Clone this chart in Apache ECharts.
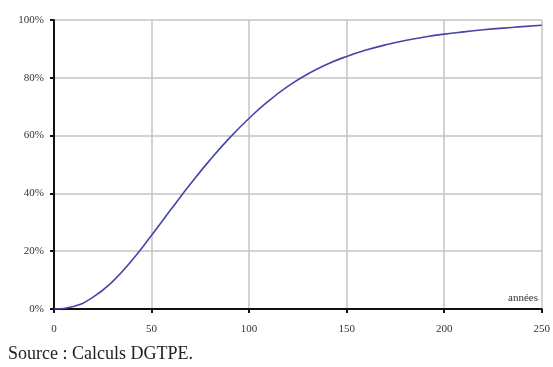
<!DOCTYPE html>
<html><head><meta charset="utf-8">
<script src="https://cdn.jsdelivr.net/npm/echarts@6/dist/echarts.min.js"></script>
<style>html,body{margin:0;padding:0;background:#fff}#c{width:553px;height:367px}</style>
</head><body><div id="c"></div>
<script>
const years = [0,10,20,30,40,50,60,70,80,90,100,110,120,130,140,150,160,170,180,190,200,210,220,230,240,250];
const share = [0,0.9,4.1,9.5,16.9,25.5,34.5,43.3,51.6,59.2,66.0,72.0,77.1,81.3,84.7,87.4,89.6,91.4,92.9,94.1,95.1,95.9,96.6,97.2,97.7,98.2];
const xTicks = [0,50,100,150,200,250];
const yTicks = [0,20,40,60,80,100];
const chart = echarts.init(document.getElementById('c'));
const serif = '"Liberation Serif", "DejaVu Serif", serif';
chart.setOption({
  animation:false,
  grid:{left:54,right:5,top:20,bottom:58,show:false},
  xAxis:{type:'value',min:xTicks[0],max:xTicks[xTicks.length-1],interval:50,
    axisLine:{show:true,onZero:false,lineStyle:{color:'#111',width:2}},
    axisTick:{show:true,length:4,lineStyle:{color:'#111',width:2}},
    axisLabel:{fontFamily:serif,fontSize:11,color:'#333',margin:15},
    splitLine:{show:true,lineStyle:{color:'#c4c4c4',width:1.5}}},
  yAxis:{type:'value',min:yTicks[0],max:yTicks[yTicks.length-1],interval:20,
    axisLine:{show:true,lineStyle:{color:'#111',width:2}},
    axisTick:{show:true,length:4,lineStyle:{color:'#111',width:2}},
    axisLabel:{fontFamily:serif,fontSize:11,color:'#333',margin:10,formatter:v=>v+'%'},
    splitLine:{show:true,lineStyle:{color:'#c4c4c4',width:1.5}}},
  series:[{type:'line',data:years.map((y,i)=>[y,share[i]]),smooth:0.5,symbol:'none',
    lineStyle:{color:'#4646a6',width:1.6}}],
  graphic:[
    {type:'text',left:508,top:293,style:{text:'années',font:'11px '+serif,fill:'#333'}},
    {type:'text',left:8,top:345,style:{text:'Source : Calculs DGTPE.',font:'18px '+serif,fill:'#222'}}
  ]
});
</script></body></html>
